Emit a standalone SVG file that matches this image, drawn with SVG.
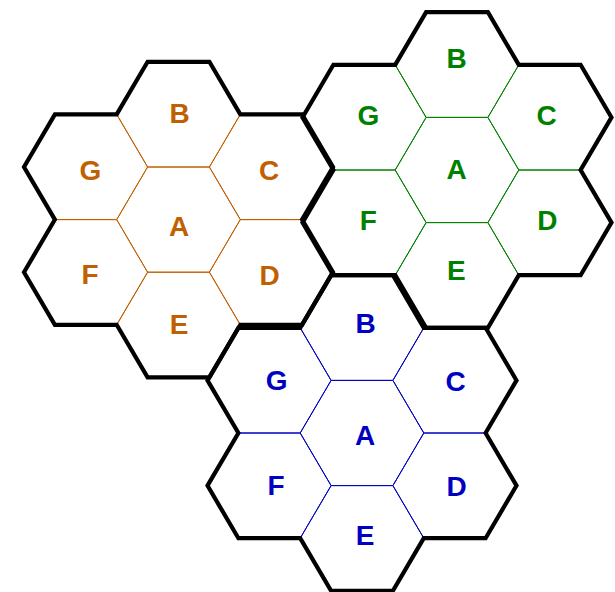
<svg xmlns="http://www.w3.org/2000/svg" xmlns:xlink="http://www.w3.org/1999/xlink" width="615" height="592" viewBox="0 0 615 592">
<style>
.or{stroke:#c06000;fill:#c06000}
.gr{stroke:#008000;fill:#008000}
.bl{stroke:#0000c0;fill:#0000c0}
.cell use{fill:none;stroke-width:1}
.cell text{stroke:none;font-family:"Liberation Sans",Arial,sans-serif;font-weight:bold;font-size:28px;text-anchor:middle}
.outline{fill:none;stroke:#000;stroke-width:4.2;stroke-linejoin:miter}
</style>
<defs>
<polygon id="hex" points="61.8,0 30.9,52.6 -30.9,52.6 -61.8,0 -30.9,-52.6 30.9,-52.6"/>
<path id="ring" d="M-30.9,-157.8 L30.9,-157.8 L61.8,-105.2 L123.6,-105.2 L154.5,-52.6 L123.6,0 L154.5,52.6 L123.6,105.2 L61.8,105.2 L30.9,157.8 L-30.9,157.8 L-61.8,105.2 L-123.6,105.2 L-154.5,52.6 L-123.6,0 L-154.5,-52.6 L-123.6,-105.2 L-61.8,-105.2 Z"/>
</defs>
<rect width="615" height="592" fill="#fff"/>

<g id="orange-cluster" class="or">
<g id="o-A" class="cell or"><use xlink:href="#hex" href="#hex" x="178.5" y="219.6"/><text x="179" y="235.7">A</text></g>
<g id="o-B" class="cell or"><use xlink:href="#hex" href="#hex" x="178.5" y="114.4"/><text x="179.7" y="122.8">B</text></g>
<g id="o-C" class="cell or"><use xlink:href="#hex" href="#hex" x="271.2" y="167"/><text x="269" y="180">C</text></g>
<g id="o-D" class="cell or"><use xlink:href="#hex" href="#hex" x="271.2" y="272.2"/><text x="269.7" y="285">D</text></g>
<g id="o-E" class="cell or"><use xlink:href="#hex" href="#hex" x="178.5" y="324.8"/><text x="179" y="334">E</text></g>
<g id="o-F" class="cell or"><use xlink:href="#hex" href="#hex" x="85.8" y="272.2"/><text x="90" y="284">F</text></g>
<g id="o-G" class="cell or"><use xlink:href="#hex" href="#hex" x="85.8" y="167"/><text x="90.5" y="180">G</text></g>
</g>

<g id="green-cluster" class="gr">
<g id="g-A" class="cell gr"><use xlink:href="#hex" href="#hex" x="457" y="170"/><text x="456.5" y="179.3">A</text></g>
<g id="g-B" class="cell gr"><use xlink:href="#hex" href="#hex" x="457" y="64.8"/><text x="456.7" y="68.3">B</text></g>
<g id="g-C" class="cell gr"><use xlink:href="#hex" href="#hex" x="549.7" y="117.4"/><text x="546.5" y="125">C</text></g>
<g id="g-D" class="cell gr"><use xlink:href="#hex" href="#hex" x="549.7" y="222.6"/><text x="547.3" y="230.3">D</text></g>
<g id="g-E" class="cell gr"><use xlink:href="#hex" href="#hex" x="457" y="275.2"/><text x="456.3" y="280">E</text></g>
<g id="g-F" class="cell gr"><use xlink:href="#hex" href="#hex" x="364.3" y="222.6"/><text x="368.2" y="229.5">F</text></g>
<g id="g-G" class="cell gr"><use xlink:href="#hex" href="#hex" x="364.3" y="117.4"/><text x="368.3" y="125">G</text></g>
</g>

<g id="blue-cluster" class="bl">
<g id="b-A" class="cell bl"><use xlink:href="#hex" href="#hex" x="362" y="433"/><text x="365.2" y="445.3">A</text></g>
<g id="b-B" class="cell bl"><use xlink:href="#hex" href="#hex" x="362" y="327.8"/><text x="365.5" y="332.8">B</text></g>
<g id="b-C" class="cell bl"><use xlink:href="#hex" href="#hex" x="454.7" y="380.4"/><text x="455.5" y="390.8">C</text></g>
<g id="b-D" class="cell bl"><use xlink:href="#hex" href="#hex" x="454.7" y="485.6"/><text x="456.7" y="495.5">D</text></g>
<g id="b-E" class="cell bl"><use xlink:href="#hex" href="#hex" x="362" y="538.2"/><text x="365" y="545">E</text></g>
<g id="b-F" class="cell bl"><use xlink:href="#hex" href="#hex" x="269.3" y="485.6"/><text x="276" y="495">F</text></g>
<g id="b-G" class="cell bl"><use xlink:href="#hex" href="#hex" x="269.3" y="380.4"/><text x="276.7" y="390">G</text></g>
</g>

<g id="connectors">
<use class="outline" xlink:href="#ring" href="#ring" x="178.5" y="219.6"/>
<use class="outline" xlink:href="#ring" href="#ring" x="457" y="170"/>
<use class="outline" xlink:href="#ring" href="#ring" x="362" y="433"/>
</g>
</svg>
